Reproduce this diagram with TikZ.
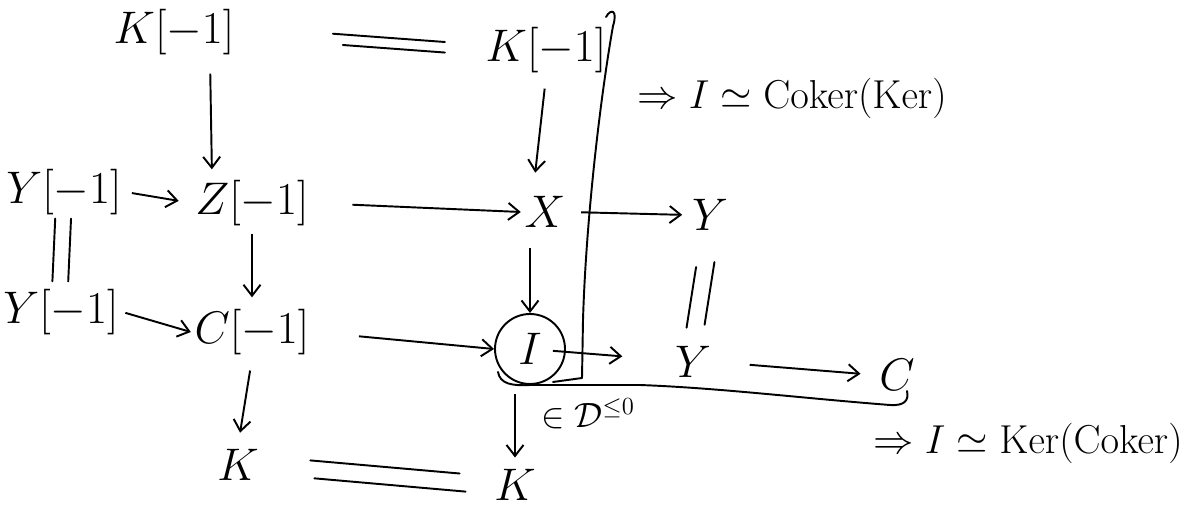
\RequirePackage{fix-cm}
\documentclass[tikz,border=0pt]{standalone}
\usepackage{amsmath,amssymb}
\usetikzlibrary{arrows.meta,positioning,calc}

\begin{document}
\begin{tikzpicture}[
  x=0.2mm, y=-0.2mm,
  font=\fontsize{26}{30}\selectfont,
  arrow/.style={-{Straight Barb[length=2.2mm,width=3.4mm]}, draw=black, line width=1.1pt},
  eqline/.style={draw=black, line width=1.1pt, line cap=round},
  obj/.style={inner sep=2pt},
  ring/.style={draw=black, line width=1.1pt, circle, minimum size=14mm, inner sep=0pt},
  note/.style={font=\fontsize{23}{27}\selectfont, inner sep=2pt},
  curve/.style={draw=black, line width=1.1pt, line cap=round, line join=round}
]
\useasboundingbox (0,0) rectangle (1202,509);

% 1. Top row: K[-1] = K[-1]
\node[obj] (Km1) at (174,32) {$K[-1]$};
\node[obj] (Km1b) at (546,50) {$K[-1]$};

% 2. Second row: Y[-1] -> Z[-1] -> X -> Y
\node[obj] (Ym1) at (64,192) {$Y[-1]$};
\node[obj] (Zm1) at (252,203) {$Z[-1]$};
\node[obj] (X) at (545,212) {$X$};
\node[obj] (Y) at (710,215) {$Y$};

% 3. Third row: Y[-1] -> C[-1] -> I -> Y -> C
\node[obj] (Ym1b) at (61,312) {$Y[-1]$};
\node[obj] (Cm1) at (252,332) {$C[-1]$};
\node[ring] (I) at (530,349) {$I$};
\node[obj] (Yb) at (693,362) {$Y$};
\node[obj] (C) at (897,375) {$C$};

% 4. Bottom row: K = K
\node[obj] (K) at (238,465) {$K$};
\node[obj] (Kb) at (515,485) {$K$};

% Remarks
\node[note] (coker) at (792,98) {$\Rightarrow I\simeq \mathrm{Coker}(\mathrm{Ker})$};
\node[note] (ker) at (1028,443) {$\Rightarrow I\simeq \mathrm{Ker}(\mathrm{Coker})$};
\node[note, font=\fontsize{20}{24}\selectfont] (dle) at (588,414) {$\in\mathcal{D}^{\le 0}$};

% Arrows
\draw[arrow, shorten <=3mm, shorten >=1.4mm] ([xshift=7.2mm]Km1.south) -- ([xshift=-8mm]Zm1.north);
\draw[arrow, shorten <=2.4mm, shorten >=4mm] (Km1b.south) -- ([xshift=-2.4mm]X.north);

\draw[arrow, shorten <=1.3mm, shorten >=2.6mm] (Ym1.east) -- (Zm1.west);
\draw[arrow, shorten <=8mm] (Zm1.east) -- (X.west);
\draw[arrow, shorten <=2.4mm, shorten >=1.2mm] (X.east) -- (Y.west);

\draw[arrow, shorten <=0.8mm, shorten >=1.6mm] (Zm1.south) -- (Cm1.north);
\draw[arrow, shorten <=3.4mm] (X.south -| I.north) -- (I.north);

\draw[arrow, shorten <=0.6mm] (Ym1b.east) -- (Cm1.west);
\draw[arrow, shorten <=9.2mm] (Cm1.east) -- (I.west);
\draw[arrow, shorten <=4.6mm, shorten >=9.8mm] (I.center) -- (Yb);
\draw[arrow, shorten <=7mm, shorten >=3mm] (Yb.east) -- (C.west);

\draw[arrow, shorten <=2.4mm, shorten >=2.6mm] (Cm1.south) -- (K.north);
\draw[arrow, shorten <=1.8mm, shorten >=1.6mm] (I.south -| Kb.north) -- (Kb.north);

% Equalities
\draw[eqline, shorten <=19mm, shorten >=7.4mm] ([yshift=3pt]Km1.east) -- ([yshift=3pt]Km1b.west);
\draw[eqline, shorten <=21mm, shorten >=7.4mm] ([yshift=-3pt]Km1.east) -- ([yshift=-3pt]Km1b.west);
\draw[eqline, shorten >=0.8mm] ([xshift=-5pt]Ym1.south) -- ([xshift=-5pt]Ym1b.north);
\draw[eqline, shorten >=0.8mm] ([xshift=4pt]Ym1.south) -- ([xshift=4pt]Ym1b.north);
\draw[eqline, shorten <=6.6mm, shorten >=3mm] ([xshift=-5pt]Y.south) -- ([xshift=-5pt]Yb.north);
\draw[eqline, shorten <=5.6mm, shorten >=3.6mm] ([xshift=5pt]Y.south) -- ([xshift=5pt]Yb.north);
\draw[eqline, shorten <=9.6mm, shorten >=6.2mm] ([yshift=5pt]K.east) -- ([yshift=5pt]Kb.west);
\draw[eqline, shorten <=10.4mm, shorten >=5mm] ([yshift=-5pt]K.east) -- ([yshift=-5pt]Kb.west);

% Coker bracket
\draw[curve] (606,17) .. controls (611,8) and (618,10) .. (613,26)
  .. controls (600,100) and (586,220) .. (583,320) -- (582,378) -- (553,382);

% Ker brace
\draw[curve] (498,372) .. controls (500,384) and (512,386) .. (530,385) -- (640,385)
  .. controls (720,388) and (800,398) .. (890,405) .. controls (905,406) and (909,400) .. (907,391);

\end{tikzpicture}
\end{document}
